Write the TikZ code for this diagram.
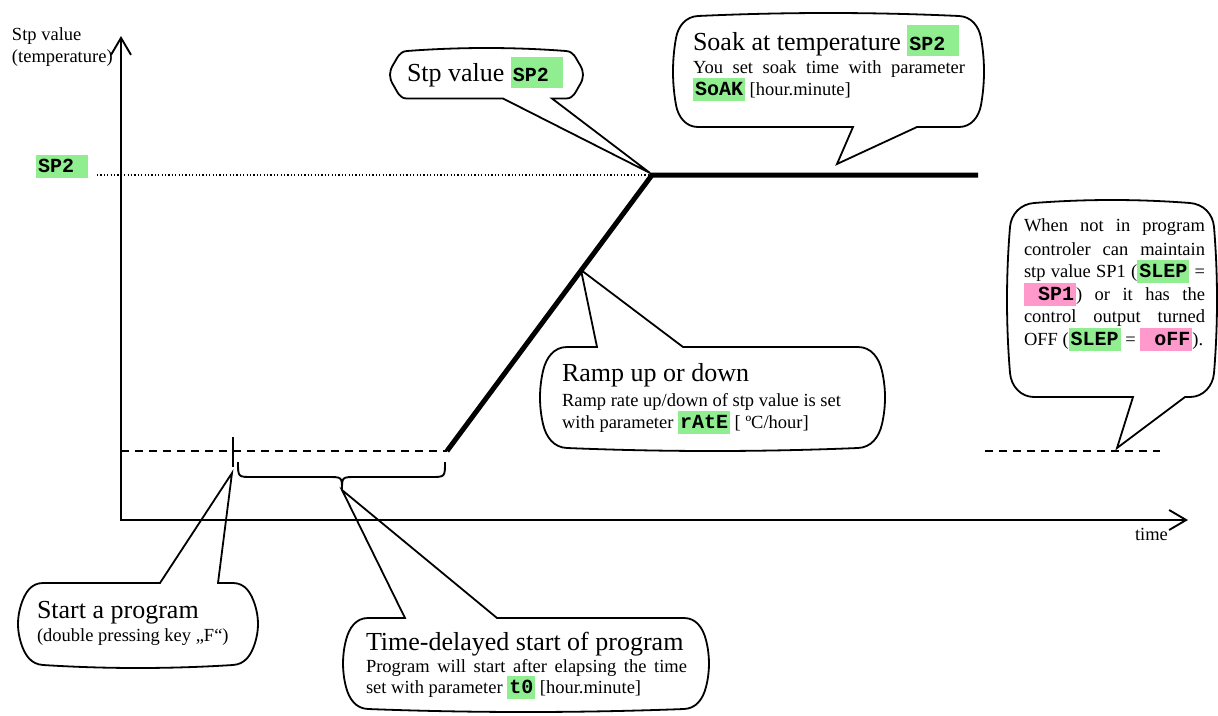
\documentclass[tikz,border=0pt]{standalone}
\usepackage{fontspec}
\setmainfont{Liberation Serif}
\setmonofont{Liberation Mono}
\usetikzlibrary{arrows.meta}

\definecolor{codegreen}{HTML}{90EE90}
\definecolor{codepink}{HTML}{FF99CC}

\newcommand{\smallfont}{\fontsize{18.5}{22}\selectfont}
\newcommand{\bigfont}{\fontsize{26}{30}\selectfont}
\newcommand{\codefont}{\fontsize{20}{22}\selectfont\ttfamily\bfseries}
% highlighted parameter code: colour, text, height of the box above depth 6pt
\newcommand{\hlbox}[3]{{\setlength{\fboxsep}{0pt}\colorbox{#1}{\rule[-6pt]{0pt}{#3}\hspace{2pt}{\codefont #2}\hspace{2pt}}}}
\newcommand{\cgr}[1]{\hlbox{codegreen}{#1}{23pt}}
\newcommand{\cgrL}[1]{\hlbox{codegreen}{#1}{31pt}}
\newcommand{\cpk}[1]{\hlbox{codepink}{#1}{23pt}}

\def\bg{4}% outward bulge of the bubble sides
% bubble frame: L T R B corner-radius
\newcommand{\setbubble}[5]{\def\bL{#1}\def\bT{#2}\def\bR{#3}\def\bB{#4}\def\br{#5}%
  \pgfmathsetmacro\bk{0.55*#5}%
  \pgfmathsetmacro\bHt{#3-#1-2*#5}%
  \pgfmathsetmacro\bHs{#4-#2-2*#5}%
  \pgfmathsetmacro\sEdge{\bk*3*\bg/\bHt}%
  \pgfmathsetmacro\sSide{\bk*3*\bg/\bHs}}

% bubble with its pointer on the bottom edge: tipx tipy b1 b2
\newcommand{\bubbledown}[4]{%
  \draw[bubble] ({\bL+\br},\bT) .. controls ({\bL+\br+\bHt/3},{\bT-\bg}) and ({\bR-\br-\bHt/3},{\bT-\bg}) .. ({\bR-\br},\bT)
    .. controls ({\bR-\br+\bk},{\bT+\sEdge}) and ({\bR-\sSide},{\bT+\br-\bk}) .. (\bR,{\bT+\br})
    .. controls ({\bR+\bg},{\bT+\br+\bHs/3}) and ({\bR+\bg},{\bB-\br-\bHs/3}) .. (\bR,{\bB-\br})
    .. controls ({\bR-\sSide},{\bB-\br+\bk}) and ({\bR-\br+\bk},\bB) .. ({\bR-\br},\bB)
    -- (#4,\bB) -- (#1,#2) -- (#3,\bB) -- ({\bL+\br},\bB)
    .. controls ({\bL+\br-\bk},\bB) and ({\bL+\sSide},{\bB-\br+\bk}) .. (\bL,{\bB-\br})
    .. controls ({\bL-\bg},{\bB-\br-\bHs/3}) and ({\bL-\bg},{\bT+\br+\bHs/3}) .. (\bL,{\bT+\br})
    .. controls ({\bL+\sSide},{\bT+\br-\bk}) and ({\bL+\br-\bk},{\bT+\sEdge}) .. ({\bL+\br},\bT) -- cycle;}

% bubble with its pointer on the top edge: tipx tipy b1 b2
\newcommand{\bubbleup}[4]{%
  \draw[bubble] ({\bL+\br},\bT) -- (#3,\bT) -- (#1,#2) -- (#4,\bT) -- ({\bR-\br},\bT)
    .. controls ({\bR-\br+\bk},\bT) and ({\bR-\sSide},{\bT+\br-\bk}) .. (\bR,{\bT+\br})
    .. controls ({\bR+\bg},{\bT+\br+\bHs/3}) and ({\bR+\bg},{\bB-\br-\bHs/3}) .. (\bR,{\bB-\br})
    .. controls ({\bR-\sSide},{\bB-\br+\bk}) and ({\bR-\br+\bk},{\bB-\sEdge}) .. ({\bR-\br},\bB)
    .. controls ({\bR-\br-\bHt/3},{\bB+\bg}) and ({\bL+\br+\bHt/3},{\bB+\bg}) .. ({\bL+\br},\bB)
    .. controls ({\bL+\br-\bk},{\bB-\sEdge}) and ({\bL+\sSide},{\bB-\br+\bk}) .. (\bL,{\bB-\br})
    .. controls ({\bL-\bg},{\bB-\br-\bHs/3}) and ({\bL-\bg},{\bT+\br+\bHs/3}) .. (\bL,{\bT+\br})
    .. controls ({\bL+\sSide},{\bT+\br-\bk}) and ({\bL+\br-\bk},\bT) .. ({\bL+\br},\bT) -- cycle;}

\begin{document}
\begin{tikzpicture}[x=1pt,y=-1pt,
  bubble/.style={draw=black,line width=1.8pt,fill=white,line join=miter},
  axis/.style={line width=1.9pt,{Straight Barb[length=17pt,width=20pt]}-{Straight Barb[length=17pt,width=20pt]}},
  txt/.style={anchor=base west,inner sep=0pt,outer sep=0pt,font=\smallfont},
  bigtxt/.style={txt,font=\bigfont},
  profile/.style={line width=5pt,line join=miter,line cap=butt},
  idle/.style={line width=1.5pt,dash pattern=on 8pt off 6pt},
  level/.style={line width=1.2pt,dash pattern=on 1.2pt off 2.2pt},
  thin/.style={line width=1.9pt}]

\useasboundingbox (0,0) rectangle (1218,715);
\clip (0,0) rectangle (1218,715);

% ---- callout bubbles ----
\setbubble{393}{51}{580}{98.5}{14}\bubbledown{650}{173}{503}{552}
\setbubble{676}{16}{981}{127}{22}\bubbledown{837}{164}{853}{917}
\setbubble{1010}{203}{1214}{397}{24}\bubbledown{1117}{448}{1133}{1185}
\setbubble{543}{347}{882}{448}{24}\bubbleup{581}{270}{597}{683}
\setbubble{21}{583}{255}{665}{22}\bubbleup{232}{473}{160}{218}
\setbubble{346}{618}{706}{709}{22}\bubbleup{342}{490}{405}{497}

% ---- axes ----
\coordinate (ytop) at (121,36);
\coordinate (origin) at (121,520);
\coordinate (xend) at (1188,520);
\draw[axis] (ytop) -- (origin) -- (xend);

% ---- set-point profile ----
\coordinate (base0) at (121,451);
\coordinate (rampstart) at (447,451);
\coordinate (ramptop) at (652,175);
\coordinate (soakend) at (978,175);
\coordinate (sp2dot) at (97,175);
\coordinate (idleA) at (985,451);
\coordinate (idleB) at (1160,451);
\coordinate (tickA) at (233,437);
\coordinate (tickB) at (233,467);

\draw[idle] (base0) -- (rampstart);
\draw[idle] (idleA) -- (idleB);
\draw[level] (sp2dot) -- (ramptop);
\draw[profile] (rampstart) -- (ramptop) -- (soakend);
\draw[thin] (tickA) -- (tickB);

% brace marking the delay t0
\draw[thin,line join=round] (238,462) .. controls (238,477) .. (252,477) -- (328,477)
  .. controls (342,477) .. (342,490) .. controls (342,477) .. (356,477) -- (431,477)
  .. controls (445,477) .. (445,462);

% ---- axis labels ----
\node[txt] (ylab1) at (12,40) {Stp value};
\node[txt] (ylab2) at (12,62) {(temperature)};
\node[txt] (sp2lbl) at (36,172) {\cgr{SP2\ }};
\node[txt] (timelbl) at (1135,540) {time};

% ---- callout texts ----
\node[bigtxt] (stpv) at (407,81.7) {Stp value \cgrL{SP2\ }};

\node[bigtxt] (soak1) at (693,50) {Soak at temperature \cgrL{SP2\ }};
\node[txt] (soak2) at (693,73) {\makebox[272pt][s]{You set soak time with parameter}};
\node[txt] (soak3) at (693,95) {\cgr{SoAK} [hour.minute]};

\node[txt] (when1) at (1024,231.7) {\makebox[181pt][s]{When not in program}};
\node[txt] (when2) at (1024,255) {\makebox[181pt][s]{controler can maintain}};
\node[txt] (when3) at (1024,277.3) {\makebox[181pt][s]{stp value SP1 (\cgr{SLEP} =}};
\node[txt] (when4) at (1024,300) {\makebox[181pt][s]{\cpk{\ SP1}) or it has the}};
\node[txt] (when5) at (1024,322.7) {\makebox[181pt][s]{control output turned}};
\node[txt] (when6) at (1024,345) {OFF (\cgr{SLEP} = \cpk{\ oFF}).};

\node[bigtxt] (ramp1) at (562,381.7) {Ramp up or down};
\node[txt] (ramp2) at (562,406.7) {Ramp rate up/down of stp value is set};
\node[txt] (ramp3) at (562,428) {with parameter \cgr{rAtE} [ ºC/hour]};

\node[bigtxt] (start1) at (37,618) {Start a program};
\node[txt] (start2) at (37,641.7) {(double pressing key „F“)};

\node[bigtxt] (td1) at (366,650.7) {Time-delayed start of program};
\node[txt] (td2) at (366,672.7) {\makebox[321pt][s]{Program will start after elapsing the time}};
\node[txt] (td3) at (366,693.3) {set with parameter \cgr{t0} [hour.minute]};

\end{tikzpicture}
\end{document}
